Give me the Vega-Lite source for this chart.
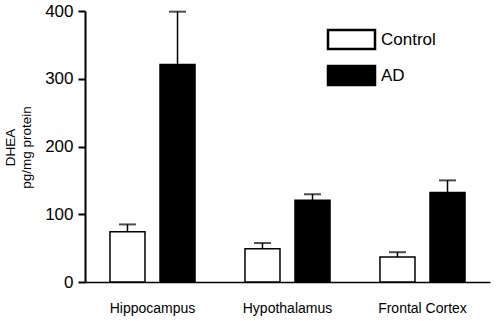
{
  "$schema": "https://vega.github.io/schema/vega-lite/v6.json",
  "autosize": {"type": "none"},
  "padding": {"left": 85, "top": 11, "right": 6, "bottom": 39},
  "width": 405,
  "height": 271,
  "background": "white",
  "config": {
    "view": {"stroke": null},
    "font": "Liberation Sans",
    "axis": {"grid": false, "domainColor": "black", "tickColor": "black", "labelColor": "black", "titleColor": "black", "labelFont": "Liberation Sans", "titleFont": "Liberation Sans"}
  },
  "data": {
    "values": [
      {"region": "Hippocampus", "group": "Control", "value": 74, "upper": 85},
      {"region": "Hippocampus", "group": "AD", "value": 321, "upper": 399},
      {"region": "Hypothalamus", "group": "Control", "value": 49, "upper": 57.5},
      {"region": "Hypothalamus", "group": "AD", "value": 120.5, "upper": 129.5},
      {"region": "Frontal Cortex", "group": "Control", "value": 37, "upper": 44},
      {"region": "Frontal Cortex", "group": "AD", "value": 132, "upper": 150}
    ]
  },
  "encoding": {
    "x": {
      "field": "region", "type": "nominal", "sort": null,
      "scale": {"paddingInner": 0.37, "paddingOuter": 0.185},
      "axis": {"title": null, "labelAngle": 0, "ticks": false, "domainWidth": 1.5, "labelPadding": 19, "labelFontSize": 14}
    },
    "xOffset": {
      "field": "group", "type": "nominal", "sort": ["Control", "AD"],
      "scale": {"paddingInner": 0.3, "paddingOuter": 0}
    }
  },
  "layer": [
    {
      "mark": {"type": "bar", "stroke": "black", "strokeWidth": 1.5},
      "encoding": {
        "y": {
          "field": "value", "type": "quantitative",
          "scale": {"domain": [0, 400], "nice": false},
          "axis": {
            "values": [0, 100, 200, 300, 400],
            "title": ["DHEA", "pg/mg protein"],
            "titleFontSize": 13.5, "titleFontWeight": "normal", "titleLineHeight": 16,
            "titleAngle": 270, "titleAlign": "center", "titleBaseline": "alphabetic",
            "titleX": -71, "titleY": 136,
            "labelFontSize": 17, "labelPadding": 5,
            "tickSize": 7, "tickWidth": 2, "domainWidth": 2
          }
        },
        "fill": {
          "field": "group", "type": "nominal", "sort": ["Control", "AD"],
          "scale": {"domain": ["Control", "AD"], "range": ["white", "black"]},
          "legend": {
            "title": null, "orient": "none", "legendX": 255, "legendY": 17, "padding": 0,
            "symbolType": "M-2.35,-0.95H2.35V0.95H-2.35Z", "symbolSize": 400,
            "symbolStrokeColor": "black", "symbolStrokeWidth": 2.5,
            "labelFontSize": 17, "labelOffset": 18, "rowPadding": 7, "labelColor": "black",
            "labelFont": "Liberation Sans"
          }
        }
      }
    },
    {
      "mark": {"type": "rule", "color": "black", "strokeWidth": 1.5},
      "encoding": {
        "y": {"field": "value", "type": "quantitative"},
        "y2": {"field": "upper"}
      }
    },
    {
      "mark": {"type": "tick", "color": "black", "thickness": 2, "size": 17},
      "encoding": {
        "y": {"field": "upper", "type": "quantitative"}
      }
    }
  ]
}
